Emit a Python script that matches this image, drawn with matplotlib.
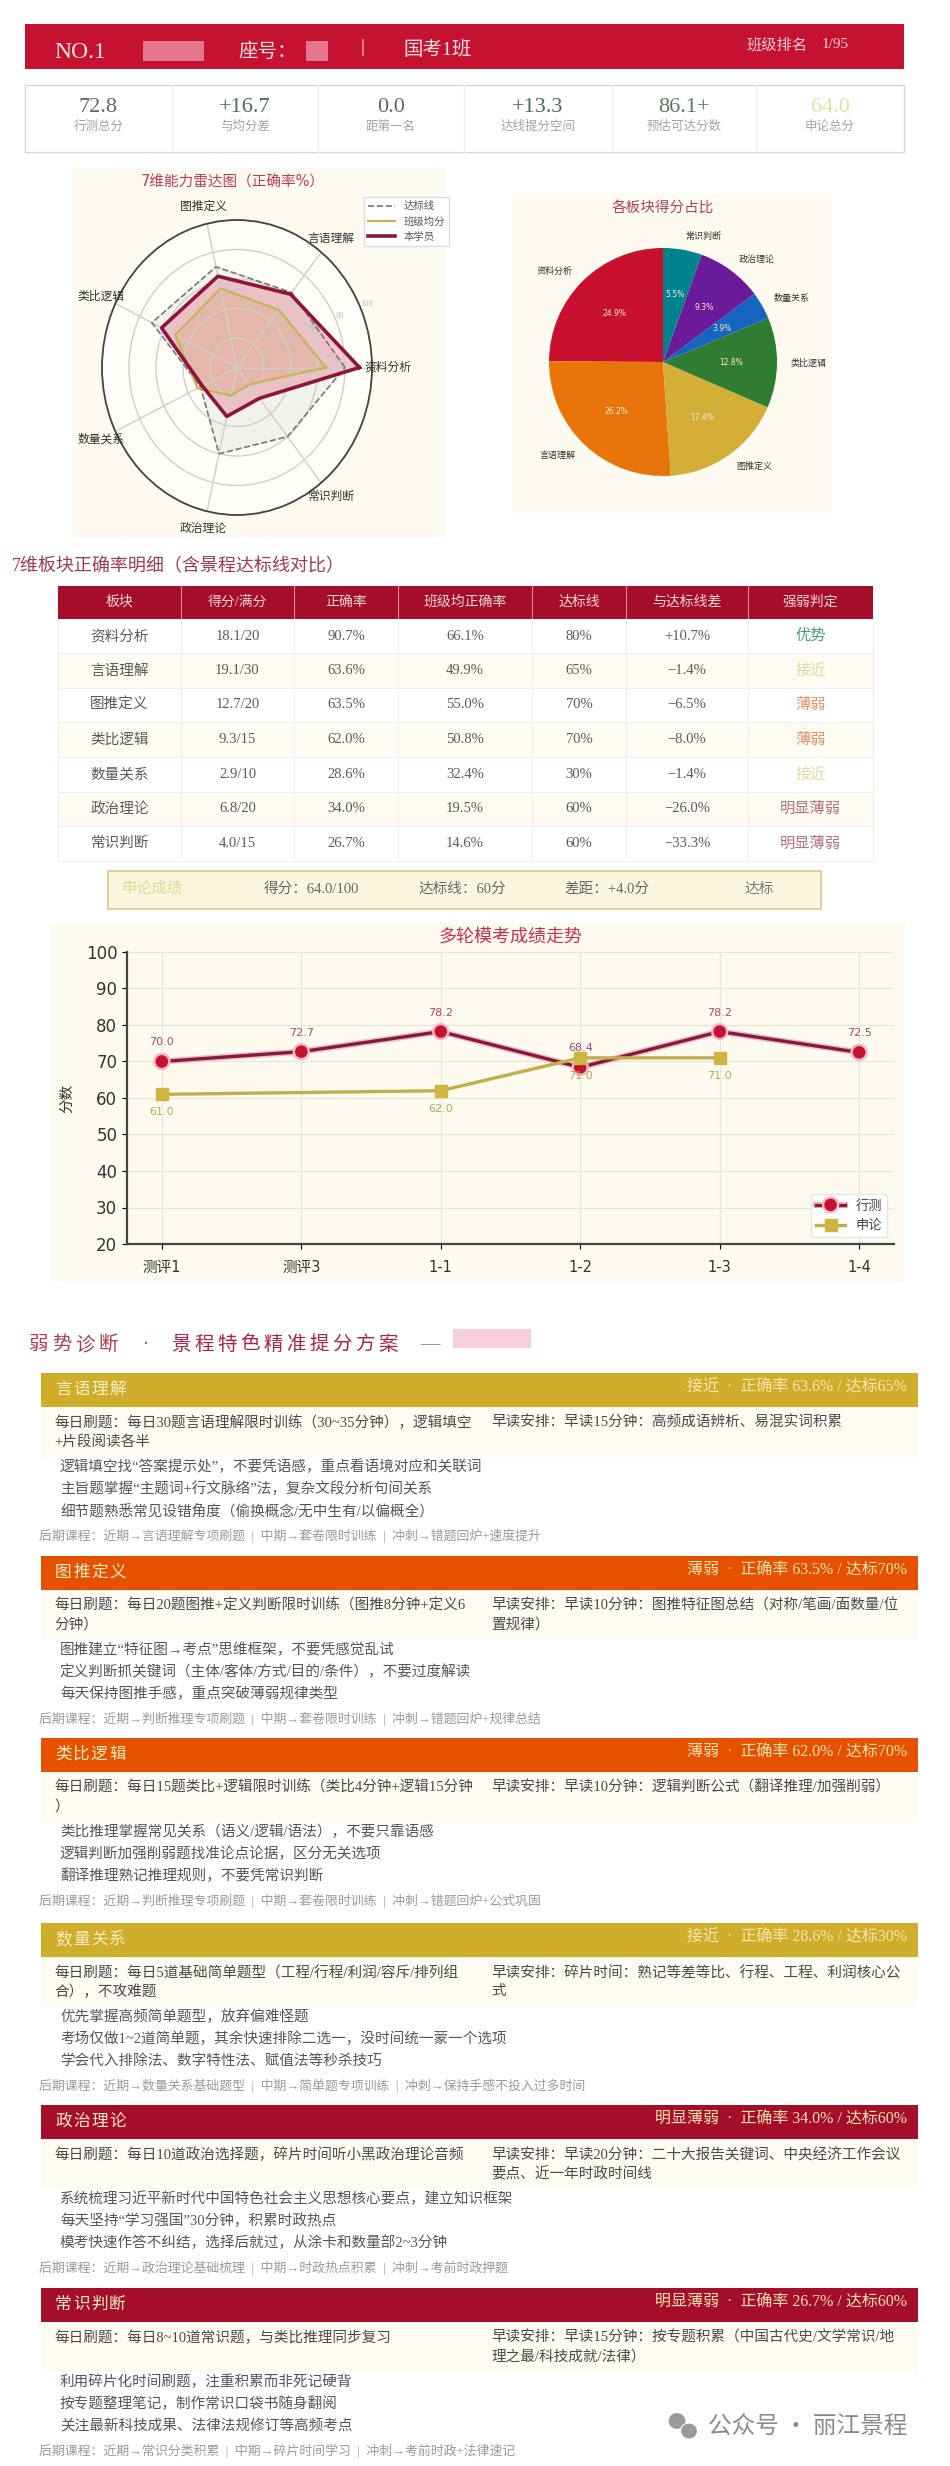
"""Recreates the exam report long image: header, radar, pie, table, trend, study plans."""

import numpy as np
import matplotlib
matplotlib.use("Agg")
import matplotlib.pyplot as plt
import matplotlib.patheffects as pe
from matplotlib.patches import Ellipse, Rectangle

W, H = 950, 2466
SERIF = ["Liberation Serif", "Noto Sans CJK SC"]
SANS = ["DejaVu Sans", "Noto Sans CJK SC"]
plt.rcParams["font.family"] = SERIF

# Data
stat_values = ["72.8", "+16.7", "0.0", "+13.3", "86.1+", "64.0"]
stat_labels = ["行测总分", "与均分差", "距第一名", "达线提分空间", "预估可达分数", "申论总分"]

modules = ["资料分析", "言语理解", "图推定义", "类比逻辑", "数量关系", "政治理论", "常识判断"]
student_rate = [90.7, 63.6, 63.5, 62.0, 28.6, 34.0, 26.7]
class_rate = [66.1, 49.9, 55.0, 50.8, 32.4, 19.5, 14.6]
target_rate = [80, 65, 70, 70, 30, 60, 60]
radar_rticks = [20, 40, 60, 80, 100]

pie_labels = ["资料分析", "言语理解", "图推定义", "类比逻辑", "数量关系", "政治理论", "常识判断"]
pie_share = [24.9, 26.2, 17.4, 12.8, 3.9, 9.3, 5.5]

table_head = ["板块", "得分/满分", "正确率", "班级均正确率", "达标线", "与达标线差", "强弱判定"]
table_score = ["18.1/20", "19.1/30", "12.7/20", "9.3/15", "2.9/10", "6.8/20", "4.0/15"]
table_diff = ["+10.7%", "−1.4%", "−6.5%", "−8.0%", "−1.4%", "−26.0%", "−33.3%"]
table_level = ["优势", "接近", "薄弱", "薄弱", "接近", "明显薄弱", "明显薄弱"]

rounds = ["测评1", "测评3", "1-1", "1-2", "1-3", "1-4"]
xingce = [70.0, 72.7, 78.2, 68.4, 78.2, 72.5]
shenlun_rounds = ["测评1", "1-1", "1-2", "1-3"]
shenlun = [61.0, 62.0, 71.0, 71.0]

section_names = ["言语理解", "图推定义", "类比逻辑", "数量关系", "政治理论", "常识判断"]
section_status = [
    "接近  ·  正确率 63.6% / 达标65%",
    "薄弱  ·  正确率 63.5% / 达标70%",
    "薄弱  ·  正确率 62.0% / 达标70%",
    "接近  ·  正确率 28.6% / 达标30%",
    "明显薄弱  ·  正确率 34.0% / 达标60%",
    "明显薄弱  ·  正确率 26.7% / 达标60%",
]
plan_left = [
    ["每日刷题：每日30题言语理解限时训练（30~35分钟），逻辑填空", "+片段阅读各半"],
    ["每日刷题：每日20题图推+定义判断限时训练（图推8分钟+定义6", "分钟）"],
    ["每日刷题：每日15题类比+逻辑限时训练（类比4分钟+逻辑15分钟", "）"],
    ["每日刷题：每日5道基础简单题型（工程/行程/利润/容斥/排列组", "合），不攻难题"],
    ["每日刷题：每日10道政治选择题，碎片时间听小黑政治理论音频"],
    ["每日刷题：每日8~10道常识题，与类比推理同步复习"],
]
plan_right = [
    ["早读安排：早读15分钟：高频成语辨析、易混实词积累"],
    ["早读安排：早读10分钟：图推特征图总结（对称/笔画/面数量/位", "置规律）"],
    ["早读安排：早读10分钟：逻辑判断公式（翻译推理/加强削弱）"],
    ["早读安排：碎片时间：熟记等差等比、行程、工程、利润核心公", "式"],
    ["早读安排：早读20分钟：二十大报告关键词、中央经济工作会议", "要点、近一年时政时间线"],
    ["早读安排：早读15分钟：按专题积累（中国古代史/文学常识/地", "理之最/科技成就/法律）"],
]
plan_tips = [
    ["逻辑填空找“答案提示处”，不要凭语感，重点看语境对应和关联词",
     "主旨题掌握“主题词+行文脉络”法，复杂文段分析句间关系",
     "细节题熟悉常见设错角度（偷换概念/无中生有/以偏概全）"],
    ["图推建立“特征图→考点”思维框架，不要凭感觉乱试",
     "定义判断抓关键词（主体/客体/方式/目的/条件），不要过度解读",
     "每天保持图推手感，重点突破薄弱规律类型"],
    ["类比推理掌握常见关系（语义/逻辑/语法），不要只靠语感",
     "逻辑判断加强削弱题找准论点论据，区分无关选项",
     "翻译推理熟记推理规则，不要凭常识判断"],
    ["优先掌握高频简单题型，放弃偏难怪题",
     "考场仅做1~2道简单题，其余快速排除二选一，没时间统一蒙一个选项",
     "学会代入排除法、数字特性法、赋值法等秒杀技巧"],
    ["系统梳理习近平新时代中国特色社会主义思想核心要点，建立知识框架",
     "每天坚持“学习强国”30分钟，积累时政热点",
     "模考快速作答不纠结，选择后就过，从涂卡和数量部2~3分钟"],
    ["利用碎片化时间刷题，注重积累而非死记硬背",
     "按专题整理笔记，制作常识口袋书随身翻阅",
     "关注最新科技成果、法律法规修订等高频考点"],
]
plan_course = [
    "后期课程：近期→言语理解专项刷题  |  中期→套卷限时训练  |  冲刺→错题回炉+速度提升",
    "后期课程：近期→判断推理专项刷题  |  中期→套卷限时训练  |  冲刺→错题回炉+规律总结",
    "后期课程：近期→判断推理专项刷题  |  中期→套卷限时训练  |  冲刺→错题回炉+公式巩固",
    "后期课程：近期→数量关系基础题型  |  中期→简单题专项训练  |  冲刺→保持手感不投入过多时间",
    "后期课程：近期→政治理论基础梳理  |  中期→时政热点积累  |  冲刺→考前时政押题",
    "后期课程：近期→常识分类积累  |  中期→碎片时间学习  |  冲刺→考前时政+法律速记",
]

# Colours and layout
RED = "#c41230"
DARK_RED = "#a50e2a"
GOLD = "#cfae2c"
ORANGE = "#e65100"
PANEL = "#fdfaf0"
stat_colors = ["#666666", "#4f6b55", "#666666", "#4a6a5a", "#5a7a60", "#dfe2a6"]
pie_colors = ["#c8102e", "#e8750a", "#d4af37", "#2e7d32", "#1565c0", "#6a1b9a", "#00838f"]
level_colors = {"优势": "#4a9a7a", "接近": "#e3d9a4", "薄弱": "#e8906a", "明显薄弱": "#b5707c"}
section_colors = [GOLD, ORANGE, ORANGE, GOLD, DARK_RED, DARK_RED]
section_tops = [1373, 1556, 1738, 1923, 2105, 2288]
stat_edges = [25, 172, 318, 464, 612, 756, 904]
table_x = [58, 181, 294, 398, 532, 626, 748, 873]
table_y = [619, 653, 688, 722, 757, 792, 826, 861]

fig = plt.figure(figsize=(W / 100, H / 100), dpi=100, facecolor="white")


def px_axes(x0, y0, x1, y1, **kw):
    return fig.add_axes([x0 / W, 1 - y1 / H, (x1 - x0) / W, (y1 - y0) / H], **kw)


# Full page layer in pixel coordinates for boxes and plain text
page = fig.add_axes([0, 0, 1, 1])
page.set_xlim(0, W)
page.set_ylim(H, 0)
page.axis("off")


def box(x0, y0, x1, y1, color, edge="none", lw=0.0):
    page.add_patch(Rectangle((x0, y0), x1 - x0, y1 - y0, facecolor=color, edgecolor=edge, linewidth=lw))


def txt(x, y, s, size=10.5, color="#4a4a4a", ha="left", **kw):
    page.text(x, y, s, fontsize=size, color=color, ha=ha, va="center", **kw)


def spaced(x, y, s, step, size, color):
    # letter spaced headline, one glyph at a time
    for i, ch in enumerate(s):
        txt(x + i * step, y, ch, size=size, color=color)


# Top banner
box(25, 24, 904, 69, RED)
txt(54, 52, "NO.1", size=17, color="#fbe3e3")
box(143, 41, 204, 61, "#e5758c")
txt(238, 52, "座号：", size=14, color="#fbe3e3")
box(306, 41, 328, 61, "#e5758c")
txt(362, 48, "|", size=14, color="#fbe3e3", ha="center")
txt(403, 50, "国考1班", size=14, color="#fbe3e3")
txt(747, 45, "班级排名", size=11, color="#f6cdd2")
txt(822, 45, "1/95", size=11, color="#f6cdd2")

# Stat cards
box(25, 85, 904, 152, "white", edge="#d8d8d8", lw=1.0)
for i in range(6):
    if i:
        page.plot([stat_edges[i]] * 2, [85, 152], color="#eeeeee", lw=1)
    cx = (stat_edges[i] + stat_edges[i + 1]) / 2
    txt(cx, 108, stat_values[i], size=16, color=stat_colors[i], ha="center")
    txt(cx, 127, stat_labels[i], size=9, color="#a3a3a3", ha="center")

# Radar
box(72, 168, 445, 538, PANEL)
txt(233, 182, "7维能力雷达图（正确率%）", size=10.5, color="#c4395c", ha="center", family=SANS)
radar = px_axes(102, 220, 372, 515, projection="polar", facecolor="#fffdf7")
radar.set_aspect("auto")
angles = np.linspace(0, 2 * np.pi, len(modules), endpoint=False)
closed = np.append(angles, angles[0])


def ring(values):
    return values + values[:1]


radar.plot(closed, ring(target_rate), color="#777777", ls="--", lw=1.2, label="达标线")
radar.fill(closed, ring(target_rate), color="#9aa8a0", alpha=0.13)
radar.plot(closed, ring(class_rate), color="#c9b35a", lw=1.6, label="班级均分")
radar.fill(closed, ring(class_rate), color="#d4af37", alpha=0.22)
radar.fill(closed, ring(student_rate), color="#dc5a78", alpha=0.32)
radar.plot(closed, ring(student_rate), color="#8e1538", lw=2.6, label="本学员")
radar.set_ylim(0, 100)
radar.set_rticks(radar_rticks)
radar.set_rlabel_position(24)
radar.tick_params(axis="y", labelsize=6, labelcolor="#bbbbbb")
radar.set_xticks(angles)
radar.set_xticklabels([])
radar.grid(color="#cfcfc8", lw=1.0)
radar.spines["polar"].set_color("#444444")
radar.spines["polar"].set_linewidth(1.3)
for a, name in zip(angles, modules):
    radar.text(a, 112, name, fontsize=8.5, color="#333333", ha="center", va="center",
               family=SANS, clip_on=False)
radar.legend(loc="upper left", bbox_to_anchor=(364 / W, 1 - 197 / H), bbox_transform=fig.transFigure,
             borderaxespad=0, prop={"family": SANS, "size": 7.5}, fancybox=False,
             edgecolor="#dddddd", facecolor="white", framealpha=1, handlelength=2.6, labelcolor="#555555")

# Pie
box(512, 193, 832, 513, PANEL)
txt(663, 207, "各板块得分占比", size=10.5, color="#b5405f", ha="center", family=SANS)
pie_ax = px_axes(549, 246, 777, 478)
wedges, labels, pcts = pie_ax.pie(pie_share, labels=pie_labels, colors=pie_colors, startangle=90,
                                  autopct="%.1f%%", pctdistance=0.6, labeldistance=1.12, radius=1.0,
                                  textprops={"fontsize": 6.5, "family": SANS, "color": "#333333"})
pie_ax.set_xlim(-1, 1)
pie_ax.set_ylim(-1, 1)
for p, col in zip(pcts, pie_colors):
    p.set_color("#ffe8d0")
    p.set_fontsize(5.5)

# Module table
txt(12, 567, "7维板块正确率明细（含景程达标线对比）", size=13, color="#a03a4c")
box(table_x[0], 586, table_x[-1], 619, DARK_RED)
for i, head in enumerate(table_head):
    cx = (table_x[i] + table_x[i + 1]) / 2
    txt(cx, 602, head, size=10, color="#f6d5d5", ha="center")
    if i:
        page.plot([table_x[i]] * 2, [586, 619], color="#d88a98", lw=0.8)
for r in range(len(modules)):
    y0, y1 = table_y[r], table_y[r + 1]
    cy = (y0 + y1) / 2
    box(table_x[0], y0, table_x[-1], y1, "#fdfbf2" if r % 2 else "white")
    page.plot([table_x[0], table_x[-1]], [y1, y1], color="#eeeeee", lw=0.8)
    row = [modules[r], table_score[r], f"{student_rate[r]:.1f}%", f"{class_rate[r]:.1f}%",
           f"{target_rate[r]}%", table_diff[r]]
    for c, cell in enumerate(row):
        txt((table_x[c] + table_x[c + 1]) / 2, cy, cell, size=10.5, color="#5a5a5a", ha="center")
    txt((table_x[6] + table_x[7]) / 2, cy, table_level[r], size=11,
        color=level_colors[table_level[r]], ha="center")
for x in table_x:
    page.plot([x, x], [619, 861], color="#f0f0f0", lw=0.8)

# Shenlun strip
box(108, 871, 821, 909, "#faf6e0", edge="#d9c98a", lw=1.2)
txt(121, 889, "申论成绩", size=11, color="#e5d792")
txt(264, 889, "得分：64.0/100", size=10.5, color="#666666")
txt(418, 889, "达标线：60分", size=10.5, color="#666666")
txt(564, 889, "差距：+4.0分", size=10.5, color="#666666")
txt(744, 889, "达标", size=10.5, color="#777777")

# Trend chart
box(51, 923, 905, 1282, PANEL)
txt(511, 937, "多轮模考成绩走势", size=13, color="#c8324f", ha="center", family=SANS)
trend = px_axes(127, 952, 894, 1244, facecolor=PANEL)
xs = np.arange(len(rounds))
xs_shen = [rounds.index(r) for r in shenlun_rounds]
trend.plot(xs, xingce, color="#7f1d3c", lw=2.4, marker="o", ms=8, mfc=RED, mec=RED, label="行测",
           path_effects=[pe.withStroke(linewidth=4.5, foreground="#f4b8c6")], zorder=3)
trend.plot(xs_shen, shenlun, color="#c3ae4e", lw=2.4, marker="s", ms=8, mfc="#cfb441", mec="#cfb441",
           label="申论", zorder=4)
for x, v in zip(xs, xingce):
    trend.annotate(f"{v:.1f}", (x, v), xytext=(0, 14), textcoords="offset pixels", ha="center", va="bottom",
                   fontsize=8, color="#b3476a", family=SANS)
for x, v in zip(xs_shen, shenlun):
    trend.annotate(f"{v:.1f}", (x, v), xytext=(0, -13), textcoords="offset pixels", ha="center", va="top",
                   fontsize=8, color="#b8a65a", family=SANS)
trend.set_xlim(-0.25, 5.25)
trend.set_ylim(20, 100)
trend.set_xticks(xs)
trend.set_xticklabels(rounds, family=SANS, fontsize=10.5, color="#333333")
trend.set_yticks(range(20, 101, 10))
trend.tick_params(axis="y", labelsize=12, labelcolor="#333333")
trend.tick_params(axis="x", pad=8)
for lab in trend.get_yticklabels():
    lab.set_family(SANS)
trend.set_ylabel("分数", family=SANS, fontsize=10.5, color="#333333", labelpad=8)
trend.grid(color="#e9e6d8", lw=0.9)
trend.set_axisbelow(True)
for side in ["top", "right"]:
    trend.spines[side].set_visible(False)
for side in ["left", "bottom"]:
    trend.spines[side].set_color("#444444")
    trend.spines[side].set_linewidth(1.6)
trend.legend(loc="lower right", prop={"family": SANS, "size": 9.5}, fancybox=True, framealpha=0.9,
             edgecolor="#e4e4e4", facecolor="white", labelcolor="#444444", handlelength=2.2)

# Plans headline
spaced(29, 1345, "弱势诊断", 23, 14, "#b33a4e")
txt(142, 1345, "·", size=13, color="#b33a4e")
spaced(171, 1345, "景程特色精准提分方案", 23, 14, "#b0204a")
txt(420, 1345, "—", size=14, color="#777777")
box(453, 1329, 531, 1348, "#f6cfdb")

# Study plan sections
for i, top in enumerate(section_tops):
    box(41, top, 918, top + 34, section_colors[i])
    spaced(55, top + 17, section_names[i], 18, 12, "#fdecc0")
    txt(907, top + 15, section_status[i], size=11.5, color="#fbe3b0", ha="right")
    box(41, top + 34, 918, top + 84, "#fdfbf2")
    for j, line in enumerate(plan_left[i]):
        txt(54, top + 50 + j * 19, line)
    for j, line in enumerate(plan_right[i]):
        txt(491, top + 50 + j * 19, line)
    for j, line in enumerate(plan_tips[i]):
        txt(60, top + 94 + j * 22, line, color="#555555")
    txt(39, top + 163, plan_course[i], size=9.3, color="#9a9a9a")

# Watermark
page.add_patch(Ellipse((677, 2421), 18, 17, facecolor="#9a9a9a", edgecolor="white", lw=0.8))
page.add_patch(Ellipse((689, 2431), 17, 16, facecolor="#9a9a9a", edgecolor="white", lw=0.8))
txt(708, 2427, "公众号 · 丽江景程", size=17, color="#8a8a8a", family=["Noto Sans CJK SC"])

fig.savefig("out.png", dpi=100, facecolor="white")
print("Saved: out.png")
